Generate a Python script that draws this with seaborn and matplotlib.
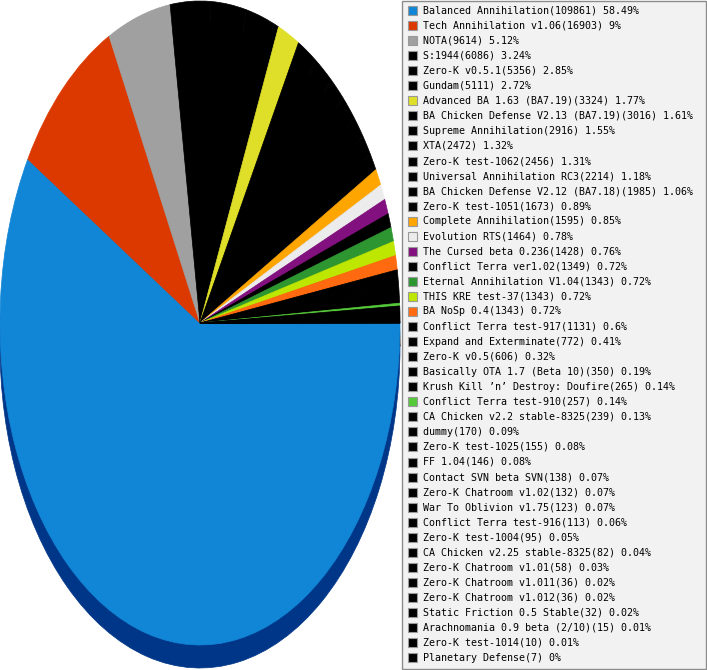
import seaborn as sns
import matplotlib.pyplot as plt
from matplotlib.patches import Rectangle
import matplotlib.colors as mcolors

# mods and how many games were played with each
mods = [
    "Balanced Annihilation", "Tech Annihilation v1.06", "NOTA", "S:1944",
    "Zero-K v0.5.1", "Gundam", "Advanced BA 1.63 (BA7.19)",
    "BA Chicken Defense V2.13 (BA7.19)", "Supreme Annihilation", "XTA",
    "Zero-K test-1062", "Universal Annihilation RC3",
    "BA Chicken Defense V2.12 (BA7.18)", "Zero-K test-1051",
    "Complete Annihilation", "Evolution RTS", "The Cursed beta 0.236",
    "Conflict Terra ver1.02", "Eternal Annihilation V1.04", "THIS KRE test-37",
    "BA NoSp 0.4", "Conflict Terra test-917", "Expand and Exterminate",
    "Zero-K v0.5", "Basically OTA 1.7 (Beta 10)",
    "Krush Kill \u2019n\u2019 Destroy: Doufire", "Conflict Terra test-910",
    "CA Chicken v2.2 stable-8325", "dummy", "Zero-K test-1025", "FF 1.04",
    "Contact SVN beta SVN", "Zero-K Chatroom v1.02", "War To Oblivion v1.75",
    "Conflict Terra test-916", "Zero-K test-1004",
    "CA Chicken v2.25 stable-8325", "Zero-K Chatroom v1.01",
    "Zero-K Chatroom v1.011", "Zero-K Chatroom v1.012",
    "Static Friction 0.5 Stable", "Arachnomania 0.9 beta (2/10)",
    "Zero-K test-1014", "Planetary Defense",
]
games = [
    109861, 16903, 9614, 6086, 5356, 5111, 3324, 3016, 2916, 2472, 2456,
    2214, 1985, 1673, 1595, 1464, 1428, 1349, 1343, 1343, 1343, 1131, 772,
    606, 350, 265, 257, 239, 170, 155, 146, 138, 132, 123, 113, 95, 82, 58,
    36, 36, 32, 15, 10, 7,
]
mod_colors = {
    "Balanced Annihilation": "#1185d6",
    "Tech Annihilation v1.06": "#dc3900",
    "NOTA": "#a0a0a0",
    "Advanced BA 1.63 (BA7.19)": "#dfdf2a",
    "Complete Annihilation": "#ffa500",
    "Evolution RTS": "#ececec",
    "The Cursed beta 0.236": "#82107f",
    "Eternal Annihilation V1.04": "#2e9631",
    "THIS KRE test-37": "#bde600",
    "BA NoSp 0.4": "#ff6a10",
    "Conflict Terra test-910": "#55c93a",
}
colors = [mod_colors.get(m, "#000000") for m in mods]


def darker(c):
    if c == "#1185d6":
        return "#003688"
    r, g, b = mcolors.to_rgb(c)
    return (r * 0.5, g * 0.5, b * 0.5)


total = sum(games)
labels = [f"{m}({g}) {round(100 * g / total, 2):g}%" for m, g in zip(mods, games)]

sns.set_theme(style="white")
plt.rcParams["font.family"] = ["DejaVu Sans Mono", "DejaVu Sans"]

W, H = 707, 670
fig = plt.figure(figsize=(W / 100, H / 100), dpi=100)

# pie, squashed into a tall ellipse with a dark rim underneath
ax = fig.add_axes([0, 0, 400 / W, 669 / H])
depth = 23 / 322
rim, _ = ax.pie(games, colors=[darker(c) for c in colors], startangle=0,
                counterclock=False, center=(0, -depth))
top, _ = ax.pie(games, colors=colors, startangle=0, counterclock=False)
# paint the wedge edges in the wedge colour so no seams show
for w in list(rim) + list(top):
    w.set_edgecolor(w.get_facecolor())
    w.set_linewidth(0.5)
ax.set_aspect("auto")
ax.set_xlim(-1, 1)
ax.set_ylim(1 - 669 / 322, 1)
ax.axis("off")

# legend box on the right
lax = fig.add_axes([401 / W, 0, 306 / W, 1])
lax.set_xlim(0, 306)
lax.set_ylim(H, 0)
lax.axis("off")
lax.add_patch(Rectangle((0.5, 0.5), 304.5, 668, facecolor="#f2f2f2",
                        edgecolor="#8c8c8c", linewidth=1))
for i, (lab, c) in enumerate(zip(labels, colors)):
    y = 10.5 + 15.05 * i
    lax.add_patch(Rectangle((7, y - 4.5), 9, 9, facecolor=c,
                            edgecolor="#999999", linewidth=0.8))
    lax.text(22, y, lab, fontsize=7.2, va="center", ha="left", color="#000000")

fig.savefig("out.png", dpi=100)
